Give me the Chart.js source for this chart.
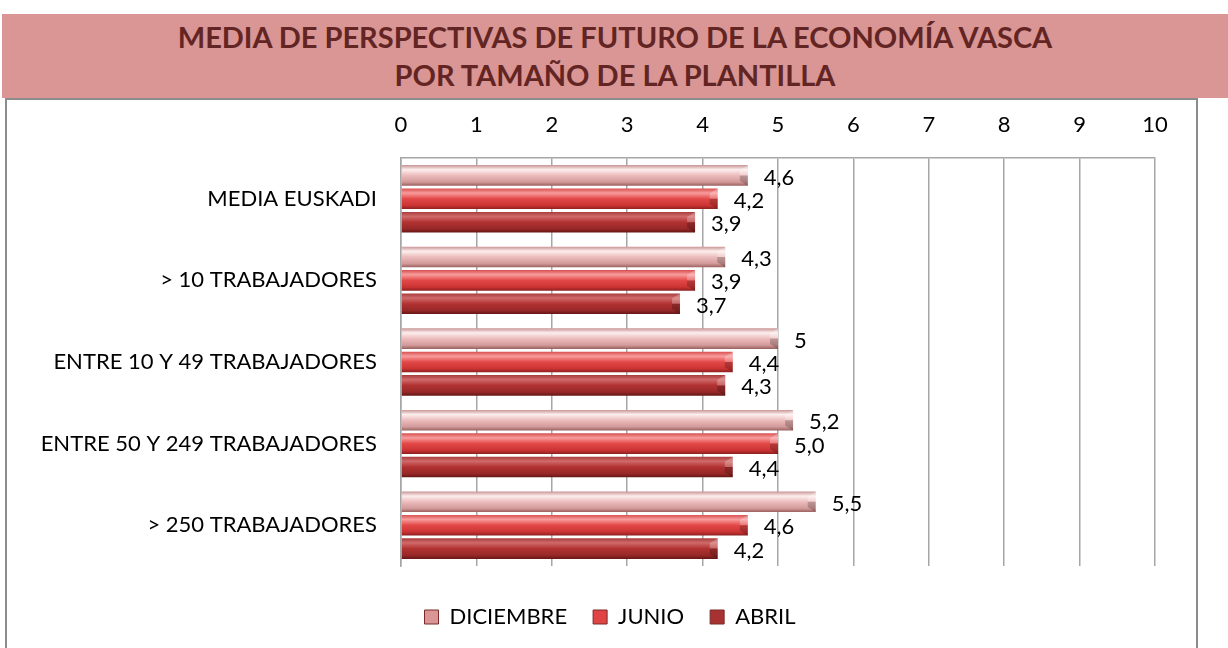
<!DOCTYPE html>
<html>
<head>
<meta charset="utf-8">
<script src="https://cdn.jsdelivr.net/npm/chart.js@4/dist/chart.umd.min.js"></script>
<style>
  html, body { margin: 0; padding: 0; background: #fff; overflow: hidden; width: 1228px; height: 648px; }
  #title {
    position: absolute; left: 2px; top: 14px; width: 1226px; height: 84px;
    background: #d99694; color: #632523;
    font-family: Lato, sans-serif; font-weight: bold; font-size: 29px;
    text-align: center; line-height: 38px; padding-top: 4px; box-sizing: border-box;
  }
  #box {
    position: absolute; left: 5px; top: 98px; width: 1189px; height: 560px;
    border: 2px solid #8c8c8c;
  }
  canvas { display: block; }
</style>
</head>
<body>
<div id="title">MEDIA DE PERSPECTIVAS DE FUTURO DE LA ECONOMÍA VASCA<br>POR TAMAÑO DE LA PLANTILLA</div>
<div id="box"><canvas id="chart" width="1189" height="545"></canvas></div>
<script>
const categories = ["MEDIA EUSKADI", "> 10 TRABAJADORES", "ENTRE 10 Y 49 TRABAJADORES", "ENTRE 50 Y 249 TRABAJADORES", "> 250 TRABAJADORES"];
const seriesNames = ["DICIEMBRE", "JUNIO", "ABRIL"];
const diciembre = [4.6, 4.3, 5.0, 5.2, 5.5];
const junio = [4.2, 3.9, 4.4, 5.0, 4.6];
const abril = [3.9, 3.7, 4.3, 4.4, 4.2];
const diciembreLabels = ["4,6", "4,3", "5", "5,2", "5,5"];
const junioLabels = ["4,2", "3,9", "4,4", "5,0", "4,6"];
const abrilLabels = ["3,9", "3,7", "4,3", "4,4", "4,2"];

// gradient stops per series (top -> bottom of each bar)
const stops = [
    ["#c99595", "#fdeeee", "#ecbcbc", "#d39a9a", "#9a6060"],
    ["#d85050", "#f89c9c", "#e34848", "#cc3434", "#8e2020"],
    ["#a83c3c", "#d06a6a", "#b23232", "#982828", "#661616"],
];
const solid = ["#d99694", "#e04444", "#a83232"];
const labelSets = [diciembreLabels, junioLabels, abrilLabels];
const font = "Lato, sans-serif";

function barGradient(ctx, top, bottom, s) {
    const g = ctx.createLinearGradient(0, top, 0, bottom);
    g.addColorStop(0, s[0]);
    g.addColorStop(0.22, s[1]);
    g.addColorStop(0.5, s[2]);
    g.addColorStop(0.82, s[3]);
    g.addColorStop(1, s[4]);
    return g;
}

const barStyle = {
    id: "barStyle",
    afterLayout(chart) {
        // nudge the legend to where it sits in the original
        const lg = chart.legend;
        lg.left += 29; lg.right += 29;
        lg.top += 14; lg.bottom += 14;
    },
    beforeDatasetsDraw(chart) {
        const ctx = chart.ctx;
        chart.data.datasets.forEach((ds, i) => {
            chart.getDatasetMeta(i).data.forEach(el => {
                const h = el.height;
                el.options.backgroundColor = barGradient(ctx, el.y - h / 2, el.y + h / 2, stops[i]);
            });
        });
    },
    afterDatasetsDraw(chart) {
        const ctx = chart.ctx;
        ctx.save();
        chart.data.datasets.forEach((ds, i) => {
            chart.getDatasetMeta(i).data.forEach((el, j) => {
                const h = el.height, top = el.y - h / 2, bot = el.y + h / 2;
                // bevelled end: light upper facet, dark lower facet
                ctx.fillStyle = "rgba(255,255,255,0.25)";
                ctx.beginPath();
                ctx.moveTo(el.x - 8, top + 5);
                ctx.lineTo(el.x, top);
                ctx.lineTo(el.x, el.y);
                ctx.lineTo(el.x - 8, el.y);
                ctx.closePath();
                ctx.fill();
                ctx.fillStyle = "rgba(0,0,0,0.2)";
                ctx.beginPath();
                ctx.moveTo(el.x - 8, el.y);
                ctx.lineTo(el.x, el.y);
                ctx.lineTo(el.x, bot);
                ctx.lineTo(el.x - 8, bot - 5);
                ctx.closePath();
                ctx.fill();
                // value label
                ctx.fillStyle = "#000";
                ctx.font = "22px " + font;
                ctx.textAlign = "left";
                ctx.textBaseline = "middle";
                ctx.fillText(labelSets[i][j], el.x + 16, el.y + 2);
            });
        });
        ctx.restore();
    }
};

const ctx = document.getElementById("chart");

new Chart(ctx, {
    type: "bar",
    data: {
        labels: categories,
        datasets: [diciembre, junio, abril].map((vals, i) => ({
            label: seriesNames[i],
            data: vals,
            backgroundColor: () => solid[i],
            borderWidth: 0,
            categoryPercentage: 0.86,
            barPercentage: 0.88,
        })),
    },
    options: {
        indexAxis: "y",
        responsive: false,
        animation: false,
        layout: { padding: { left: 0, right: 41, top: 0, bottom: 21 } },
        plugins: {
            legend: {
                position: "bottom",
                labels: {
                    boxWidth: 14,
                    boxHeight: 14,
                    padding: 26,
                    color: "#000",
                    font: { family: font, size: 22 },
                    generateLabels: (chart) => seriesNames.map((n, i) => ({
                        text: n,
                        fillStyle: solid[i],
                        strokeStyle: "#7a2a2a",
                        lineWidth: 1,
                        datasetIndex: i,
                    })),
                },
            },
            tooltip: { enabled: false },
        },
        scales: {
            x: {
                position: "top",
                min: 0,
                max: 10,
                ticks: { stepSize: 1, color: "#000", padding: 20, font: { family: font, size: 22 } },
                grid: { color: "#a6a6a6", lineWidth: 1.5, drawTicks: false },
                border: { display: true, color: "#a6a6a6", width: 1.5 },
                afterFit: (s) => { s.height = 58; },
            },
            y: {
                ticks: { color: "#000", padding: 24, font: { family: font, size: 22 } },
                grid: { display: false, drawTicks: false },
                border: { display: true, color: "#a6a6a6", width: 1.5 },
                afterFit: (s) => { s.width = 394; },
            },
        },
    },
    plugins: [barStyle],
});
</script>
</body>
</html>
